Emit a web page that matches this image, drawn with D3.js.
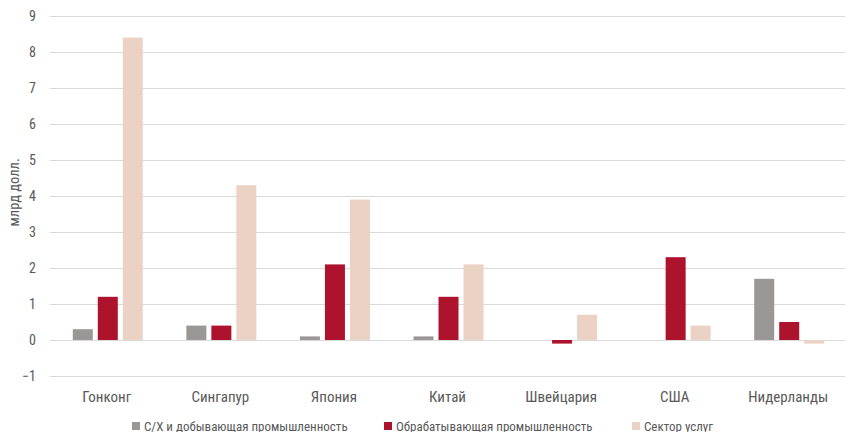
<!DOCTYPE html>
<html>
<head>
<meta charset="utf-8">
<script src="https://cdn.jsdelivr.net/npm/d3@7"></script>
<style>
  html, body { margin: 0; padding: 0; background: #fff; }
  svg text { font-family: "Roboto Condensed", "Liberation Sans Narrow", "Arial Narrow", sans-serif; fill: #595959; font-weight: 400; }
</style>
</head>
<body>
<svg id="chart" width="845" height="432"></svg>
<script>
// Прямые иностранные инвестиции по странам и секторам, млрд долл.
const countries = ["Гонконг", "Сингапур", "Япония", "Китай", "Швейцария", "США", "Нидерланды"];
const seriesNames = ["С/Х и добывающая промышленность", "Обрабатывающая промышленность", "Сектор услуг"];
const agriMining = [0.3, 0.4, 0.1, 0.1, 0, 0, 1.7];
const manufacturing = [1.2, 0.4, 2.1, 1.2, -0.1, 2.3, 0.5];
const services = [8.4, 4.3, 3.9, 2.1, 0.7, 0.4, -0.1];
const yTicks = [-1, 0, 1, 2, 3, 4, 5, 6, 7, 8, 9];
const colors = ["#9a9896", "#ae132e", "#ecd1c5"];

const seriesValues = [agriMining, manufacturing, services];

const svg = d3.select("#chart");
const margin = { left: 50, right: 0 };
const W = 845;

const y = d3.scaleLinear().domain([-1, 9]).range([376, 16]);
const x = d3.scaleBand().domain(countries).range([margin.left, W - margin.right]).paddingInner(0).paddingOuter(0);
const xs = d3.scaleBand().domain(d3.range(seriesNames.length)).range([-34, 36]).paddingInner(0.2);

// Сетка и подписи оси Y
const yAxis = svg.append("g").attr("transform", `translate(${margin.left},0)`)
  .call(d3.axisLeft(y).tickValues(yTicks).tickSize(-(W - margin.left - margin.right)).tickFormat(d3.format("d")));
yAxis.select(".domain").remove();
yAxis.selectAll(".tick line").attr("stroke", "#d9d9d9").attr("stroke-width", 1);
yAxis.selectAll(".tick text").attr("x", -14).style("font-size", "14px").attr("dy", "0.35em");

// Столбцы
const groups = svg.append("g").selectAll("g")
  .data(countries)
  .join("g")
  .attr("transform", d => `translate(${x(d) + x.bandwidth() / 2},0)`);

groups.selectAll("rect")
  .data((c, i) => seriesValues.map((vals, s) => ({ s, v: vals[i] })))
  .join("rect")
  .attr("x", d => xs(d.s))
  .attr("width", xs.bandwidth())
  .attr("y", d => y(Math.max(0, d.v)))
  .attr("height", d => Math.abs(y(d.v) - y(0)))
  .attr("fill", d => colors[d.s]);

// Подписи категорий
const xAxis = svg.append("g").attr("transform", `translate(0,${y(-1)})`)
  .call(d3.axisBottom(x).tickSize(0).tickPadding(15));
xAxis.select(".domain").remove();
xAxis.selectAll(".tick text").style("font-size", "15px").attr("dy", "0.71em");

// Подпись оси Y
svg.append("text")
  .attr("transform", `translate(19,${y(4.1)}) rotate(-90)`)
  .attr("text-anchor", "middle")
  .style("font-size", "14.5px")
  .text("млрд долл.");

// Легенда
const legendX = [132, 384, 632];
const legend = svg.append("g").selectAll("g")
  .data(seriesNames)
  .join("g")
  .attr("transform", (d, i) => `translate(${legendX[i]},422)`);
legend.append("rect").attr("width", 8).attr("height", 8).attr("fill", (d, i) => colors[i]);
legend.append("text").attr("x", 12).attr("y", 8.5).style("font-size", "13px").text(d => d);
</script>
</body>
</html>
